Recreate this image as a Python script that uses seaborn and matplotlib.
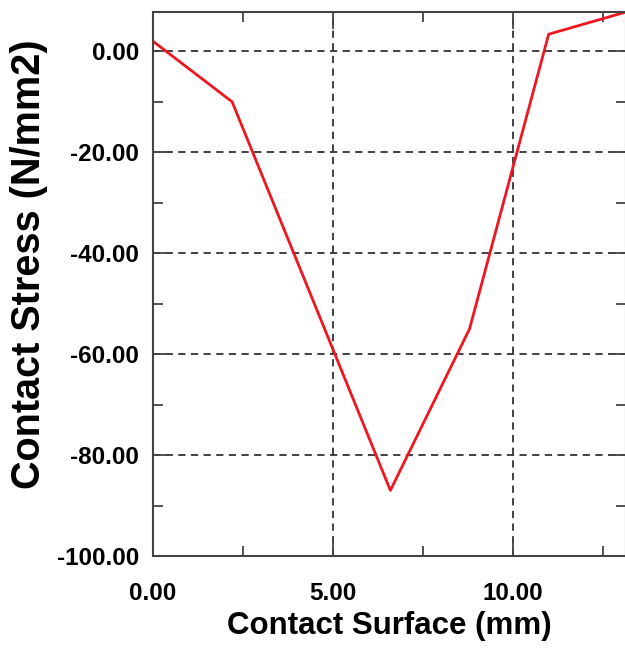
import matplotlib
matplotlib.use("Agg")
import matplotlib.pyplot as plt
from matplotlib.ticker import MultipleLocator, FormatStrFormatter
import seaborn as sns

sns.set_style("ticks")
plt.rcParams['font.family'] = ['Liberation Sans', 'DejaVu Sans']

# values
surface_mm = [0.0, 2.2, 6.6, 8.8, 11.0, 13.15]
stress_nmm2 = [2.0, -10.0, -87.0, -55.0, 3.4, 7.8]

fig = plt.figure(figsize=(6.25, 6.5), dpi=100)
ax = fig.add_axes([153 / 625, 94 / 650, 473 / 625, 544 / 650])

sns.lineplot(x=surface_mm, y=stress_nmm2, sort=False, color="#ee1620",
             linewidth=2.0, ax=ax)

ax.set_xlim(0, 13.15)
ax.set_ylim(-100, 7.8)

ax.xaxis.set_major_locator(MultipleLocator(5))
ax.xaxis.set_minor_locator(MultipleLocator(2.5))
ax.yaxis.set_major_locator(MultipleLocator(20))
ax.yaxis.set_minor_locator(MultipleLocator(10))
ax.xaxis.set_major_formatter(FormatStrFormatter("%.2f"))
ax.yaxis.set_major_formatter(FormatStrFormatter("%.2f"))

ax.grid(True, which="major", color="#333333", linestyle=(0, (4, 3)), linewidth=1.3)
ax.tick_params(which="both", direction="in", top=True, right=True,
               colors="#444444", labelcolor="black", labelsize=17.5, width=1.3)
ax.tick_params(which="major", length=12)
ax.tick_params(which="minor", length=7)
ax.tick_params(axis="x", which="major", pad=19)
ax.tick_params(axis="y", which="major", pad=10)
for lab in ax.get_xticklabels() + ax.get_yticklabels():
    lab.set_fontweight("bold")
for s in ax.spines.values():
    s.set_color("#444444")
    s.set_linewidth(1.5)

ax.set_xlabel("Contact Surface (mm)", fontsize=22.5, fontweight="bold",
              color="black", labelpad=4)
ax.set_ylabel("Contact Stress (N/mm2)", fontsize=28.5, fontweight="bold",
              color="black")
ax.yaxis.set_label_coords(-0.222, 0.537)

fig.savefig("out.png", dpi=100)
